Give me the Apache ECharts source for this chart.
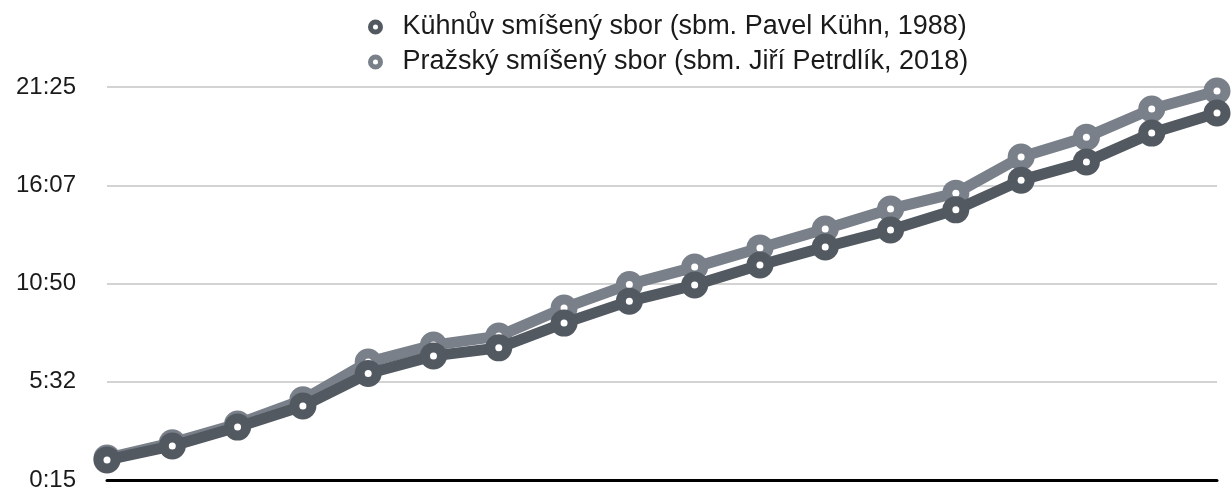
<!DOCTYPE html>
<html>
<head>
<meta charset="utf-8">
<script src="https://cdn.jsdelivr.net/npm/echarts@6/dist/echarts.min.js"></script>
<style>
  html, body { margin: 0; padding: 0; background: #fff; }
  #chart { width: 1232px; height: 492px; }
</style>
</head>
<body>
<div id="chart"></div>
<script>
// poradi skladeb (bez popisku na ose x)
const parts = ['1', '2', '3', '4', '5', '6', '7', '8', '9', '10', '11', '12', '13', '14', '15', '16', '17', '18'];

// kumulativni cas v sekundach
const kuhn = [80, 125, 186, 254, 359, 416, 442, 522, 593, 645, 710, 768, 823, 888, 984, 1043, 1136, 1201];
const prazsky = [86, 135, 196, 274, 396, 451, 480, 571, 647, 703, 765, 826, 891, 942, 1059, 1123, 1214, 1272];

const seriesNames = [
  'Kühnův smíšený sbor (sbm. Pavel Kühn, 1988)',
  'Pražský smíšený sbor (sbm. Jiří Petrdlík, 2018)'
];
const colors = ['#535961', '#7a8089'];
const yMin = 15;
const yMax = 1285;
const yStep = 317.5;

const fontFamily = '"Liberation Sans", Arial, sans-serif';

function fmtTime(v) {
  const m = Math.floor(v / 60);
  const s = Math.floor(v % 60);
  return m + ':' + (s < 10 ? '0' + s : s);
}

// hlavni cara s plnymi kolecky
function lineSeries(name, data, color, z) {
  return {
    name: name,
    type: 'line',
    data: data,
    z: z,
    symbol: 'circle',
    symbolSize: 27,
    showAllSymbol: true,
    lineStyle: { color: color, width: 11 },
    itemStyle: { color: color }
  };
}

// bile stredy kolecek
function dotSeries(name, data, z) {
  return {
    name: name + ' ',
    type: 'line',
    data: data,
    z: z,
    symbol: 'circle',
    symbolSize: 7,
    showAllSymbol: true,
    silent: true,
    lineStyle: { width: 0, opacity: 0 },
    itemStyle: { color: '#fff' }
  };
}

const chart = echarts.init(document.getElementById('chart'));

const option = {
  animation: false,
  textStyle: { fontFamily: fontFamily },
  legend: {
    orient: 'vertical',
    left: 363,
    top: 7,
    itemGap: 5,
    itemWidth: 10,
    itemHeight: 10,
    icon: 'circle',
    data: seriesNames.map(function (n, i) {
      return {
        name: n,
        itemStyle: { color: '#fff', borderColor: colors[i], borderWidth: 5 }
      };
    }),
    textStyle: {
      fontSize: 27,
      lineHeight: 30,
      color: '#1a1a1a',
      fontFamily: fontFamily,
      padding: [0, 0, 0, 17]
    }
  },
  grid: {
    left: 107,
    right: 15,
    top: 87,
    bottom: 12,
    containLabel: false
  },
  xAxis: {
    type: 'category',
    data: parts,
    boundaryGap: false,
    axisLine: { show: true, lineStyle: { color: '#000', width: 3 } },
    axisTick: { show: false },
    axisLabel: { show: false },
    splitLine: { show: false }
  },
  yAxis: {
    type: 'value',
    min: yMin,
    max: yMax,
    interval: yStep,
    axisLine: { show: false },
    axisTick: { show: false },
    axisLabel: {
      margin: 31,
      fontSize: 24,
      color: '#1a1a1a',
      formatter: fmtTime
    },
    splitLine: { lineStyle: { color: '#c4c4c4', width: 1.5 } }
  },
  series: [
    lineSeries(seriesNames[1], prazsky, colors[1], 2),
    dotSeries(seriesNames[1], prazsky, 3),
    lineSeries(seriesNames[0], kuhn, colors[0], 4),
    dotSeries(seriesNames[0], kuhn, 5)
  ]
};

chart.setOption(option);
</script>
</body>
</html>
